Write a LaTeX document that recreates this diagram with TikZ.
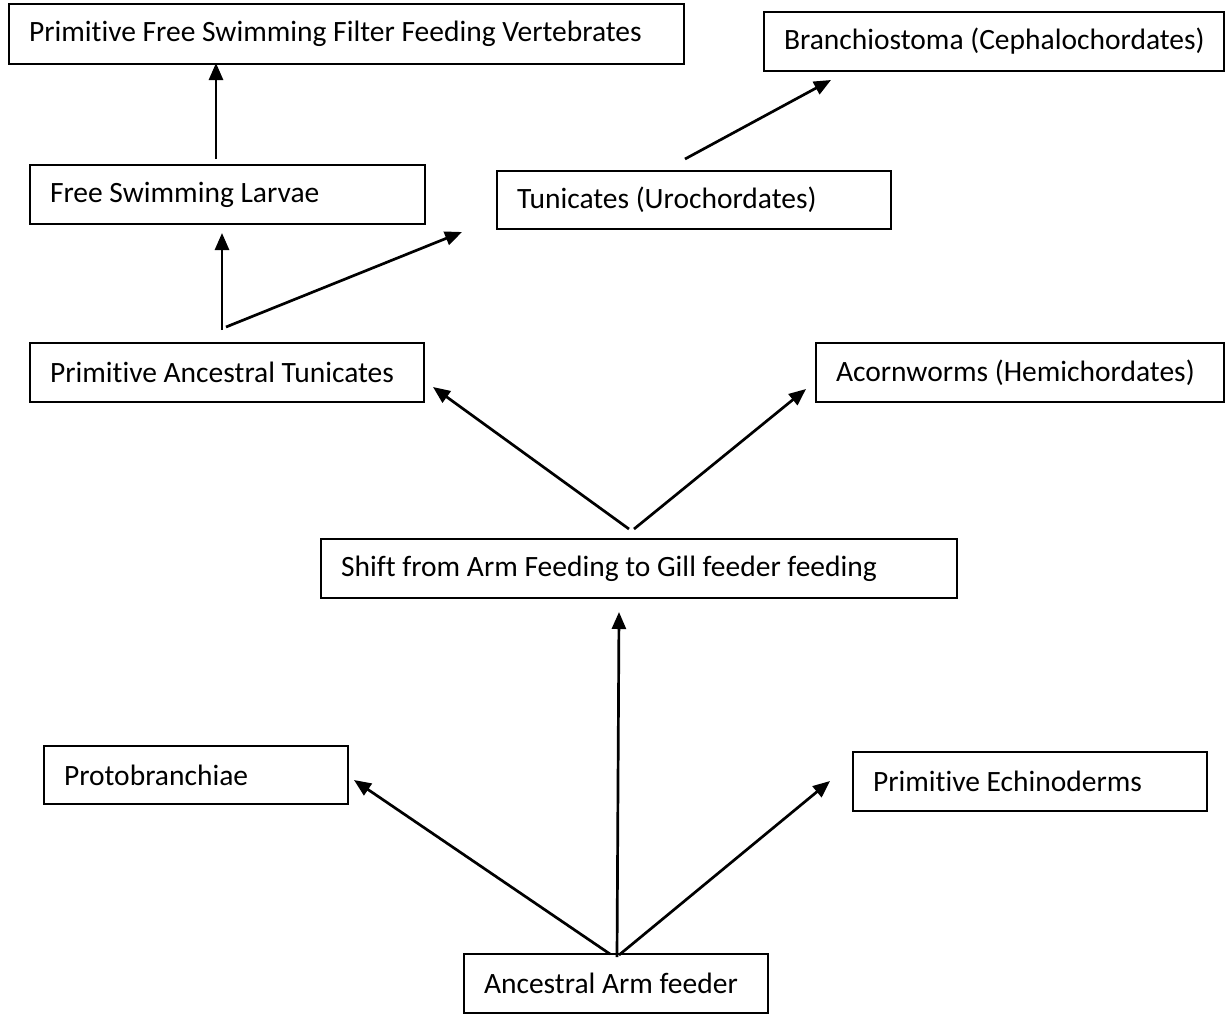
\documentclass[tikz,border=0pt]{standalone}
\usepackage{fontspec}
\setmainfont{Carlito}[Ligatures={NoCommon}]
\usetikzlibrary{arrows.meta}
\tikzset{
  box/.style={draw, line width=2pt, rectangle, anchor=north west, inner xsep=20pt, inner ysep=0pt,
    font=\fontsize{29.5pt}{35pt}\selectfont},
  arr/.style={line width=2.7pt, -{Triangle[length=17pt,width=14pt]}}
}
\newcommand{\bx}[6]{% name, x1, y1, x2, y2, text
  \pgfmathsetmacro{\bw}{#4-#2}\pgfmathsetmacro{\bh}{#5-#3}\pgfmathsetmacro{\tw}{#4-#2-40}
  \node[box, minimum width=\bw pt, minimum height=\bh pt] (#1) at (#2,#3) {\raisebox{-1.5pt}{\makebox[\tw pt][l]{#6}}};}
\begin{document}
\begin{tikzpicture}[x=1pt,y=-1pt]
\useasboundingbox (0,0) rectangle (1225,1013);
\bx{vert}{8}{3}{683}{63}{Primitive Free Swimming Filter Feeding Vertebrates}
\bx{branch}{763}{11}{1223}{70}{Branchiostoma (Cephalochordates)}
\bx{fsl}{29}{164}{424}{223}{Free Swimming Larvae}
\bx{tun}{496}{170}{890}{228}{Tunicates (Urochordates)}
\bx{pat}{29}{342}{423}{401}{Primitive Ancestral Tunicates}
\bx{acorn}{815}{342}{1223}{401}{Acornworms (Hemichordates)}
\bx{shift}{320}{538}{956}{597}{Shift from Arm Feeding to Gill feeder feeding}
\bx{proto}{43}{745}{347}{803}{Protobranchiae}
\bx{echin}{852}{751}{1206}{810}{Primitive Echinoderms}
\bx{anc}{463}{953}{767}{1012}{Ancestral Arm feeder}
% connector end points
\coordinate (s1) at (216,159); \coordinate (e1) at (216,63);
\coordinate (s2) at (685,159); \coordinate (e2) at (831,80);
\coordinate (s3) at (222,330); \coordinate (e3) at (222,233);
\coordinate (s4) at (226,327); \coordinate (e4) at (462,232);
\coordinate (s5) at (629,529); \coordinate (e5) at (433,387);
\coordinate (s6) at (634,529); \coordinate (e6) at (806,389);
\coordinate (s7) at (617,957); \coordinate (e7) at (619,612);
\coordinate (s8) at (610,954); \coordinate (e8) at (354,780);
\coordinate (s9) at (619,955); \coordinate (e9) at (830,781);
\foreach \i in {1,...,9} {\draw[arr] (s\i) -- (e\i);}
\end{tikzpicture}
\end{document}
